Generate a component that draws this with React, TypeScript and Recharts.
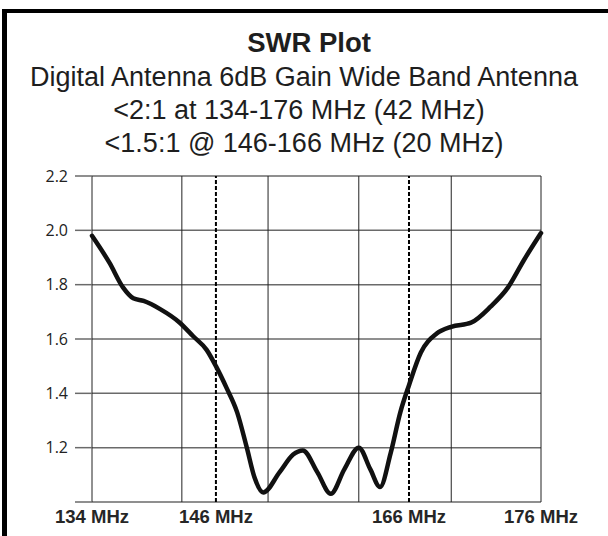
import React from 'react';
import {
  LineChart,
  Line,
  XAxis,
  YAxis,
  CartesianGrid,
  ReferenceLine,
} from 'recharts';

// SWR readings (frequency in MHz, SWR ratio)
const FREQ = [
  134, 135.7, 137.0, 138.0, 139.0, 140.6, 142.5, 143.8, 145.1, 146.0, 147.1,
  148.2, 149.2, 150.0, 150.9, 152.6, 154.0, 155.0, 156.5, 157.9, 159.3, 160.8,
  162.0, 163.0, 164.1, 165.1, 166.0, 166.9, 168.1, 169.2, 170.7, 172.2, 173.5,
  174.7, 176,
];
const SWR = [
  1.98, 1.88, 1.79, 1.75, 1.74, 1.71, 1.66, 1.61, 1.56, 1.5, 1.42, 1.33, 1.2,
  1.09, 1.035, 1.11, 1.175, 1.19, 1.11, 1.03, 1.12, 1.2, 1.12, 1.055, 1.18,
  1.33, 1.43, 1.55, 1.62, 1.645, 1.66, 1.72, 1.79, 1.89, 1.99,
];

const X_TICKS = [134, 146, 166, 176];
const GRID_FREQ = [134, 142.7, 151.4, 160.8, 169.2, 176];
const BAND_EDGES = [146, 166];
const Y_TICKS = [1.0, 1.2, 1.4, 1.6, 1.8, 2.0, 2.2];

// the printed frequency axis is not linear: where each labelled
// frequency sits across the plot width
const AXIS_FREQ = [134, 146, 166, 176];
const AXIS_POS = [0, 0.276, 0.706, 1];

const data = FREQ.map((f, i) => ({ freq: f, swr: SWR[i] }));

function freqScale(dom: number[] = [134, 176], rng: number[] = [0, 1]): any {
  const s: any = (v: number) => {
    let i = 0;
    while (i < AXIS_FREQ.length - 2 && v > AXIS_FREQ[i + 1]) i++;
    const t = (v - AXIS_FREQ[i]) / (AXIS_FREQ[i + 1] - AXIS_FREQ[i]);
    const p = AXIS_POS[i] + t * (AXIS_POS[i + 1] - AXIS_POS[i]);
    return rng[0] + p * (rng[1] - rng[0]);
  };
  s.domain = (d?: number[]) => {
    if (d === undefined) return dom.slice();
    dom = d.slice();
    return s;
  };
  s.range = (r?: number[]) => {
    if (r === undefined) return rng.slice();
    rng = r.slice();
    return s;
  };
  s.copy = () => freqScale(dom, rng);
  s.ticks = () => X_TICKS.slice();
  return s;
}

const title: React.CSSProperties = {
  position: 'absolute',
  left: 0,
  width: 608,
  textAlign: 'center',
  fontFamily: '"Liberation Sans", Arial, sans-serif',
  color: '#1e1e1e',
  whiteSpace: 'nowrap',
};

export default function App() {
  return (
    <div
      style={{
        position: 'absolute',
        left: 0,
        top: 0,
        width: 608,
        height: 536,
        overflow: 'hidden',
        background: '#fff',
      }}
    >
      <div
        style={{
          position: 'absolute',
          left: 2,
          top: 9,
          width: 700,
          height: 700,
          borderLeft: '5px solid #000',
          borderTop: '4px solid #000',
        }}
      />
      <div
        style={{
          ...title,
          left: 5,
          top: 26,
          fontSize: 27.5,
          lineHeight: '34px',
          fontWeight: 700,
        }}
      >
        SWR Plot
      </div>
      <div style={{ ...title, top: 61, fontSize: 27, lineHeight: '33px' }}>
        <div>Digital Antenna 6dB Gain Wide Band Antenna</div>
        <div style={{ marginLeft: -10 }}>&lt;2:1 at 134-176 MHz (42 MHz)</div>
        <div>&lt;1.5:1 @ 146-166 MHz (20 MHz)</div>
      </div>
      <div style={{ position: 'absolute', left: 0, top: 0 }}>
        <LineChart
          width={608}
          height={536}
          data={data}
          margin={{ top: 176, right: 67, left: 32, bottom: 4 }}
        >
          <CartesianGrid vertical={false} stroke="#6a6a6a" strokeWidth={1.5} />
          {GRID_FREQ.map((f) => (
            <ReferenceLine key={f} x={f} stroke="#222" strokeWidth={1} />
          ))}
          {BAND_EDGES.map((f) => (
            <ReferenceLine
              key={'b' + f}
              x={f}
              stroke="#000"
              strokeWidth={2}
              strokeDasharray="4 2"
            />
          ))}
          <XAxis
            dataKey="freq"
            type="number"
            domain={[134, 176]}
            scale={freqScale()}
            ticks={X_TICKS}
            interval={0}
            tickFormatter={(v) => `${v} MHz`}
            axisLine={false}
            tickLine={false}
            tickSize={0}
            tickMargin={8}
            height={30}
            tick={{
              fill: '#262626',
              fontSize: 18.5,
              fontWeight: 700,
              fontFamily: '"Liberation Sans", Arial, sans-serif',
            }}
          />
          <YAxis
            type="number"
            domain={[1.0, 2.2]}
            ticks={Y_TICKS}
            interval={0}
            tickFormatter={(v) => (v === 1 ? '' : v.toFixed(1))}
            axisLine={false}
            tickLine={{ stroke: '#6a6a6a', strokeWidth: 1.5 }}
            tickSize={17}
            tickMargin={7}
            width={60}
            tick={{ fill: '#222', fontSize: 16, fontFamily: '"Open Sans", sans-serif' }}
          />
          <Line
            type="monotone"
            dataKey="swr"
            stroke="#111"
            strokeWidth={4.5}
            strokeLinejoin="round"
            strokeLinecap="round"
            dot={false}
            isAnimationActive={false}
          />
        </LineChart>
      </div>
    </div>
  );
}
